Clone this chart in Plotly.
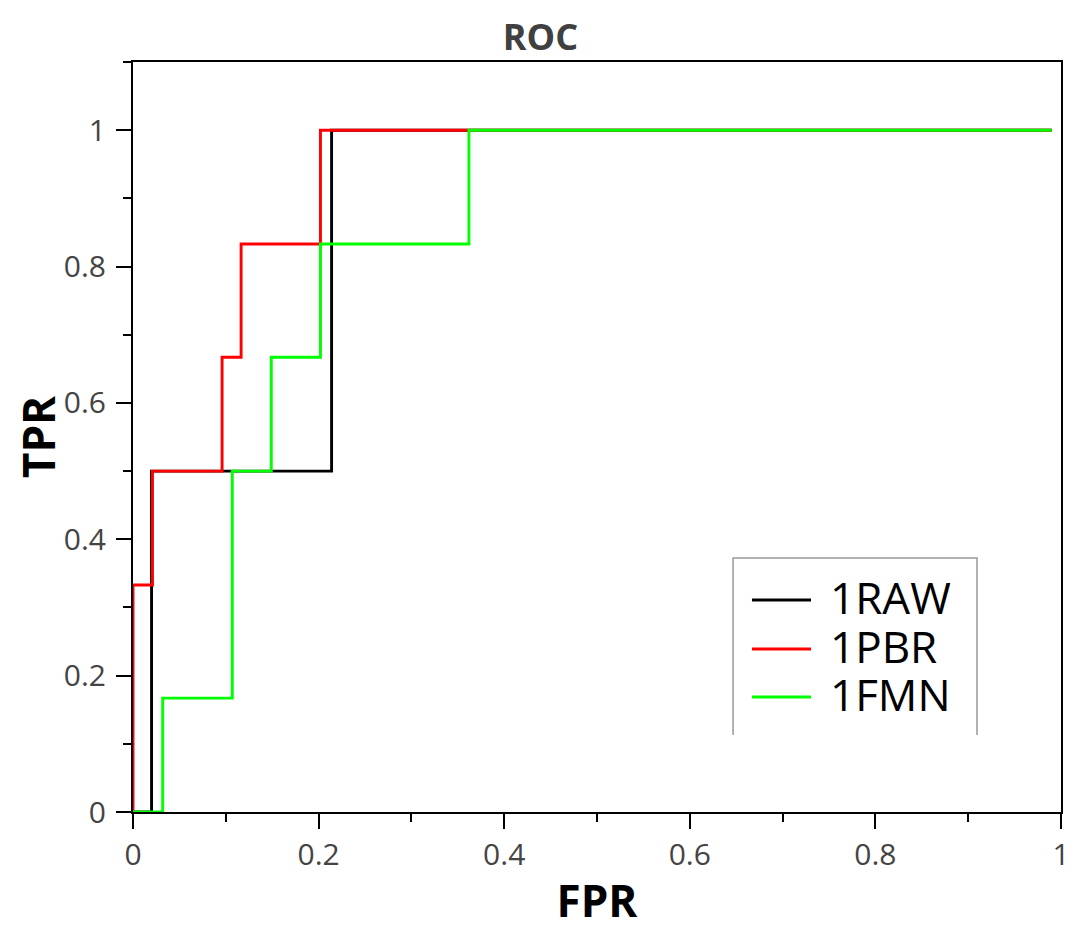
import plotly.graph_objects as go

# ROC curve data
fpr_raw = [0, 0.020, 0.214, 0.99]
tpr_raw = [0, 0.5, 1.0, 1.0]

fpr_pbr = [0, 0, 0.021, 0.096, 0.1165, 0.202, 0.99]
tpr_pbr = [0, 0.333, 0.5, 0.667, 0.833, 1.0, 1.0]

fpr_fmn = [0, 0.032, 0.107, 0.149, 0.202, 0.362, 0.99]
tpr_fmn = [0, 0.167, 0.5, 0.667, 0.833, 1.0, 1.0]

series_names = ["1RAW", "1PBR", "1FMN"]
series_colors = ["#000000", "#ff0000", "#00ff00"]

x_ticks = [0, 0.2, 0.4, 0.6, 0.8, 1]
x_ticklabels = ["0", "0.2", "0.4", "0.6", "0.8", "1"]
y_ticks = [0, 0.2, 0.4, 0.6, 0.8, 1]
y_ticklabels = ["0", "0.2", "0.4", "0.6", "0.8", "1"]

FONT = "Open Sans"

fig = go.Figure()
for xs, ys, name, col in zip([fpr_raw, fpr_pbr, fpr_fmn],
                             [tpr_raw, tpr_pbr, tpr_fmn],
                             series_names, series_colors):
    fig.add_trace(go.Scatter(x=xs, y=ys, mode="lines", name=name, showlegend=False,
                             line=dict(color=col, width=2.9, shape="hv")))

axis_common = dict(
    showgrid=False, zeroline=False, automargin=False,
    showline=True, linecolor="black", linewidth=2, mirror=True,
    ticks="outside", ticklen=15, tickwidth=2, tickcolor="black",
    tickfont=dict(family=FONT, size=30, color="#444444"),
)

fig.update_xaxes(
    range=[0, 1], tickvals=x_ticks, ticktext=x_ticklabels,
    minor=dict(ticks="outside", ticklen=8, tickwidth=1.5, tickcolor="black", dtick=0.1, tick0=0),
    title=dict(text="<b>FPR</b>", font=dict(family=FONT, size=44, color="black"), standoff=23),
    ticklabeloverflow="allow",
    **axis_common,
)
fig.update_yaxes(
    range=[0, 1.1], tickvals=y_ticks, ticktext=y_ticklabels,
    minor=dict(ticks="outside", ticklen=8, tickwidth=1.5, tickcolor="black", dtick=0.1, tick0=0),
    title=dict(text="<b>TPR</b>", font=dict(family=FONT, size=44, color="black"), standoff=15),
    ticklabelstandoff=4,
    **axis_common,
)

# legend (frame open at the bottom, as in the reference)
fig.add_shape(type="path", xref="paper", yref="paper",
              path="M 0.6466,0.1027 L 0.6466,0.3387 L 0.9095,0.3387 L 0.9095,0.1027",
              line=dict(color="#999999", width=1.5), layer="above")
legend_rows_y = [0.2827, 0.2173, 0.1533]
for name, col, yy in zip(series_names, series_colors, legend_rows_y):
    fig.add_shape(type="line", xref="paper", yref="paper",
                  x0=0.667, x1=0.7306, y0=yy, y1=yy,
                  line=dict(color=col, width=3))
    fig.add_annotation(xref="paper", yref="paper", x=0.7485, y=yy + 0.004,
                       xanchor="left", yanchor="middle", showarrow=False,
                       height=44, valign="middle",
                       text=name, font=dict(family=FONT, size=44, color="black"))

# the page body adds an 8px offset, so the figure is sized 8px smaller
fig.update_layout(
    width=1065, height=922,
    margin=dict(l=125, r=12, t=54, b=118),
    paper_bgcolor="white", plot_bgcolor="white",
    title=dict(text="<b>ROC</b>", x=0.5, xanchor="center", y=0.968, yanchor="middle",
               font=dict(family=FONT, size=36, color="#404040")),
    showlegend=False,
)

fig.write_html("out.html")
